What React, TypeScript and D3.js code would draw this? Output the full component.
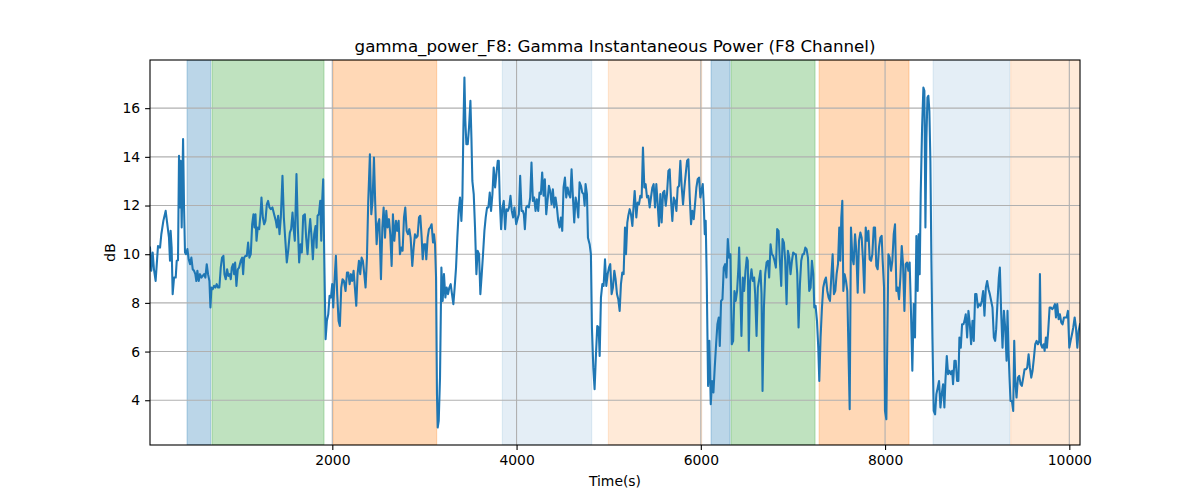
import { useEffect, useRef } from 'react';
import * as d3 from 'd3';

// time (s) and gamma power (dB)
const timeSec = [
  21, 35, 50, 64, 82, 108, 130, 144, 166, 191, 209, 227, 238, 245, 256, 267, 282, 300, 311, 325,
  336, 347, 354, 365, 380, 390, 401, 412, 427, 441, 456, 470, 485, 499, 513, 524, 535, 550, 564, 579,
  593, 608, 622, 637, 651, 666, 677, 688, 702, 716, 731, 745, 760, 774, 789, 803, 818, 829, 843, 858,
  872, 887, 898, 909, 923, 934, 945, 959, 974, 988, 1006, 1021, 1032, 1043, 1057, 1072, 1086, 1100, 1115, 1130,
  1144, 1155, 1166, 1177, 1191, 1206, 1220, 1231, 1246, 1260, 1274, 1289, 1303, 1318, 1332, 1350, 1368,
  1387, 1398, 1412, 1427, 1441, 1459, 1474, 1488, 1506, 1521, 1539, 1553, 1568, 1579, 1593, 1611, 1626, 1640, 1655,
  1669, 1684, 1702, 1716, 1731, 1745, 1760, 1774, 1789, 1803, 1818, 1829, 1840, 1854, 1869, 1880, 1890, 1901, 1912, 1927,
  1941, 1956, 1970, 1985, 1999, 2010, 2024, 2039, 2053, 2068, 2082, 2097, 2111, 2126, 2144, 2159, 2173, 2188, 2202, 2216,
  2231, 2245, 2260, 2274, 2289, 2303, 2318, 2332, 2347, 2361, 2376, 2390, 2408, 2423, 2437, 2452, 2466, 2481, 2495, 2510,
  2528, 2543, 2557, 2572, 2586, 2600, 2615, 2629, 2644, 2658, 2673,
  2691, 2705, 2720, 2734, 2749, 2763, 2778, 2792, 2807, 2821, 2836, 2850, 2868, 2883, 2897, 2912, 2926, 2941, 2955, 2970,
  2981, 2995, 3010, 3020, 3035, 3049, 3064, 3078, 3093, 3104, 3115, 3126, 3136, 3144, 3155, 3169, 3184, 3198, 3212, 3227,
  3241, 3256, 3270, 3285, 3299, 3314, 3328, 3343, 3357, 3372, 3386, 3401, 3412, 3423, 3434, 3444, 3455, 3470, 3484, 3499,
  3510, 3520, 3535, 3549, 3564, 3578, 3593, 3607, 3622, 3636, 3651, 3665, 3680, 3694, 3709, 3723, 3738, 3752, 3767, 3781,
  3796, 3807, 3818, 3832, 3847, 3861, 3876, 3890, 3905, 3919, 3934, 3948, 3963, 3977,
  3996, 4010, 4025, 4039, 4054, 4068, 4079, 4090, 4104, 4119, 4133, 4148, 4162, 4177, 4191, 4206, 4220, 4235, 4249, 4264,
  4278, 4293, 4307, 4322, 4336, 4351, 4365, 4380, 4394, 4409, 4423, 4438, 4452, 4467, 4481, 4496, 4510, 4525, 4539, 4554,
  4568, 4583, 4597, 4612, 4626, 4641, 4655, 4670, 4684, 4699, 4713, 4728, 4739, 4749, 4764, 4775, 4793, 4807, 4818, 4833,
  4847, 4862, 4876, 4891, 4902, 4916, 4931, 4945, 4960, 4974, 4989, 5003, 5017, 5032, 5046, 5061, 5075, 5090, 5104, 5119,
  5133, 5148, 5162, 5177, 5188, 5202, 5213, 5228, 5242, 5257, 5267, 5282,
  5300, 5314, 5329, 5343, 5358, 5372, 5387, 5401, 5416, 5430, 5445, 5459, 5474, 5488, 5503, 5517, 5532, 5546, 5561, 5575,
  5590, 5604, 5619, 5633, 5648, 5662, 5677, 5691, 5706, 5720, 5735, 5749, 5764, 5778, 5793, 5807, 5822, 5836, 5851, 5865,
  5880, 5894, 5908, 5923, 5937, 5952, 5966, 5981, 5995, 6010, 6021, 6032, 6043, 6053, 6064, 6079, 6093, 6108, 6122, 6137,
  6151, 6166, 6180, 6195, 6206, 6220, 6235, 6249, 6264, 6278, 6293, 6307, 6322, 6336, 6351, 6365, 6379, 6394, 6408, 6416,
  6430, 6441, 6456, 6470, 6485, 6499, 6510, 6521, 6535, 6550, 6564, 6579,
  6590, 6605, 6619, 6634, 6648, 6659, 6670, 6685, 6699, 6714, 6728, 6742, 6757, 6771, 6786, 6800, 6815, 6829, 6844, 6858,
  6873, 6887, 6902, 6916, 6931, 6945, 6960, 6974, 6989, 7003, 7018, 7032, 7047, 7061, 7076, 7090, 7105, 7119, 7134, 7148,
  7163, 7177, 7192, 7206, 7221, 7232, 7246, 7261, 7275, 7286, 7300, 7315, 7329, 7344, 7358, 7373, 7387, 7402, 7416, 7431,
  7445, 7460, 7474, 7489, 7503, 7514, 7525, 7536, 7547, 7561, 7576, 7590, 7605, 7616, 7630, 7645, 7659, 7674, 7688, 7703,
  7717, 7732, 7746, 7761, 7775, 7790, 7804, 7819, 7833, 7848, 7862, 7877, 7891,
  7905, 7920, 7934, 7949, 7963, 7974, 7989, 7999, 8014, 8025, 8036, 8050, 8065, 8079, 8094, 8108, 8123, 8137, 8152, 8166,
  8181, 8195, 8210, 8224, 8239, 8253, 8267, 8282, 8296, 8311, 8325, 8340, 8354, 8365, 8376, 8387, 8402, 8416, 8427, 8438,
  8449, 8460, 8470, 8481, 8492, 8503, 8514, 8528, 8543, 8557, 8572, 8586, 8601, 8615, 8630, 8644, 8655, 8670, 8684, 8699,
  8713, 8728, 8738, 8753, 8767, 8782, 8796, 8807, 8822, 8836, 8851, 8862, 8876, 8891, 8905, 8920, 8934, 8949, 8963, 8978,
  8992, 9007, 9021, 9036, 9050, 9065, 9079, 9094, 9108, 9123, 9137, 9152, 9166, 9181, 9195,
  9206, 9221, 9235, 9246, 9261, 9275, 9290, 9304, 9319, 9329, 9340, 9351, 9362, 9377, 9391, 9402, 9413, 9427, 9442, 9456,
  9471, 9485, 9500, 9514, 9529, 9543, 9558, 9572, 9587, 9601, 9616, 9630, 9645, 9659, 9674, 9681, 9692, 9706, 9721, 9732,
  9746, 9757, 9771, 9786, 9800, 9815, 9829, 9844, 9855, 9869, 9884, 9898, 9913, 9927, 9942, 9956, 9971, 9985, 10000, 10014,
  10029, 10043, 10058, 10072, 10087, 10101, 10116,
];

const powerDb = [
  10.27, 9.32, 10.07, 9.38, 8.9, 10.34, 10.27, 10.82, 11.37, 11.78, 11.23, 10.68, 9.73, 10.96, 10.27, 8.36, 9.04, 9.04, 9.73, 9.75,
  14.04, 11.92, 13.84, 11.1, 14.73, 12.05, 10.07, 10.0, 10.21, 9.79, 9.59, 9.86, 9.38, 9.32, 9.18, 8.9, 9.32, 8.9, 9.18, 9.04,
  9.11, 9.18, 9.04, 9.59, 9.18, 8.9, 7.81, 8.63, 8.56, 8.7, 8.63, 8.77, 8.63, 8.63, 9.45, 9.86, 9.93, 9.18, 8.97, 9.38,
  9.11, 9.18, 8.97, 9.45, 9.59, 9.18, 9.66, 8.7, 9.38, 9.45, 9.73, 9.86, 9.18, 9.86, 9.93, 9.93, 10.48, 9.86, 10.0, 11.23,
  11.64, 11.1, 11.64, 10.55, 11.1, 11.03, 11.64, 12.33, 11.51, 11.23, 11.37, 12.05, 12.19, 11.92, 11.85, 11.92, 11.64,
  11.37, 11.1, 11.58, 10.82, 11.51, 13.22, 11.51, 10.68, 9.66, 10.14, 10.89, 11.03, 11.71, 11.1, 10.55, 13.29, 11.1, 9.66, 10.41,
  10.07, 11.58, 11.64, 10.68, 10.0, 10.82, 11.44, 10.75, 9.79, 10.82, 11.16, 10.27, 11.58, 11.64, 12.19, 10.55, 12.19, 13.08, 10.0, 6.51,
  7.26, 7.53, 8.29, 8.22, 8.77, 7.81, 8.9, 9.93, 8.36, 7.26, 7.05, 8.63, 8.97, 8.9, 8.49, 9.25, 9.25, 8.77, 9.18, 8.9,
  9.32, 8.63, 7.88, 9.18, 9.73, 9.18, 9.86, 9.73, 9.18, 8.63, 9.86, 12.19, 14.11, 11.64, 12.19, 13.97, 12.05, 10.41, 11.23, 11.44,
  8.97, 11.1, 11.92, 10.68, 11.78, 11.1, 11.44, 10.82, 9.52, 11.64, 10.55,
  11.37, 10.96, 11.37, 10.0, 10.27, 10.14, 11.51, 11.92, 10.96, 10.82, 11.03, 10.68, 9.52, 10.27, 10.82, 10.68, 10.75, 11.51, 11.58, 10.68,
  9.79, 10.41, 10.41, 9.79, 10.68, 11.03, 11.1, 11.23, 10.48, 10.82, 10.41, 9.04, 4.25, 2.88, 3.15, 4.93, 9.45, 8.08, 9.18, 8.22,
  8.63, 8.36, 8.63, 8.77, 8.36, 7.95, 8.63, 9.45, 10.68, 11.78, 12.33, 11.37, 12.33, 15.21, 17.26, 15.48, 14.52, 14.52, 15.21, 16.3,
  14.79, 13.01, 12.47, 11.1, 9.18, 10.14, 10.0, 8.36, 9.18, 10.0, 10.96, 11.51, 11.92, 11.92, 12.53, 11.78, 12.47, 13.56, 12.74, 13.29,
  13.84, 13.84, 12.19, 11.03, 11.92, 12.19, 11.03, 11.85, 11.78, 11.92, 12.4, 11.78, 11.51, 11.92,
  11.23, 11.44, 11.64, 13.22, 11.78, 11.78, 11.64, 11.03, 11.92, 11.99, 11.92, 12.33, 13.77, 12.19, 12.33, 11.78, 12.26, 11.78, 12.53, 12.47,
  13.36, 12.4, 13.08, 11.64, 12.19, 12.81, 12.6, 12.05, 12.67, 11.92, 12.33, 11.92, 11.37, 11.1, 11.51, 10.96, 12.74, 13.15, 12.33, 12.74,
  12.47, 12.33, 13.49, 12.33, 11.3, 12.33, 12.05, 11.51, 12.95, 12.81, 12.53, 12.47, 11.99, 12.88, 12.47, 10.68, 10.41, 10.0, 6.99, 5.34,
  4.45, 5.89, 7.05, 6.99, 5.82, 8.22, 8.77, 8.7, 9.79, 8.7, 9.18, 9.45, 9.59, 8.36, 8.63, 9.32, 8.97, 8.36, 8.15, 7.67,
  8.77, 9.25, 9.18, 11.1, 10.0, 11.3, 11.58, 11.85, 11.64, 11.16, 11.78, 12.6,
  11.51, 12.12, 12.05, 12.4, 12.33, 14.38, 12.74, 12.88, 12.33, 12.4, 11.92, 12.33, 12.74, 12.88, 11.92, 12.88, 12.05, 11.16, 12.47, 11.3,
  12.53, 12.6, 11.99, 12.47, 13.42, 13.49, 12.19, 11.37, 12.33, 12.19, 11.78, 12.74, 12.81, 13.84, 12.74, 12.05, 12.74, 13.29, 13.84, 13.9,
  12.33, 11.23, 11.78, 11.44, 12.05, 12.74, 13.08, 13.15, 12.33, 12.67, 12.88, 12.05, 10.82, 11.37, 9.04, 4.59, 6.44, 3.84, 4.79, 4.32,
  5.34, 6.3, 7.12, 7.4, 6.23, 8.08, 8.15, 9.45, 9.59, 9.04, 10.62, 9.86, 10.0, 6.3, 6.44, 8.49, 8.08, 8.49, 9.45, 10.27,
  8.36, 6.64, 9.04, 8.49, 9.32, 9.86, 9.73, 6.03, 8.9, 9.38, 8.9, 9.04,
  8.36, 6.64, 8.63, 8.97, 9.32, 8.36, 4.38, 7.81, 9.18, 9.66, 9.73, 9.04, 10.41, 10.0, 9.93, 9.73, 9.45, 11.03, 10.96, 9.73,
  8.7, 10.62, 10.48, 9.73, 7.95, 10.14, 9.86, 9.18, 9.73, 10.07, 10.0, 10.0, 9.18, 6.99, 8.77, 9.73, 10.0, 10.0, 10.27, 10.21,
  9.86, 8.49, 8.63, 9.73, 9.18, 7.81, 7.88, 7.26, 6.16, 4.79, 6.58, 7.81, 8.63, 8.9, 9.04, 8.49, 8.22, 8.08, 9.04, 10.0,
  8.36, 8.49, 9.18, 9.59, 11.1, 9.73, 11.51, 12.19, 8.49, 9.18, 8.9, 8.49, 5.62, 3.63, 11.1, 9.86, 9.59, 10.82, 10.14, 8.42,
  10.55, 10.89, 10.68, 9.73, 8.42, 11.1, 10.55, 10.96, 9.79, 9.73, 10.0, 11.1, 11.1,
  9.52, 9.38, 10.27, 10.68, 10.75, 9.73, 8.63, 3.56, 3.22, 6.71, 10.0, 9.86, 9.32, 9.73, 10.82, 11.23, 8.49, 8.63, 8.15, 9.04,
  10.34, 9.59, 7.67, 9.59, 9.66, 9.32, 9.66, 7.53, 5.21, 7.95, 6.58, 10.75, 8.49, 10.82, 9.18, 12.47, 15.21, 16.85, 16.71, 11.1,
  14.79, 16.44, 16.51, 15.89, 13.84, 9.73, 6.58, 3.56, 3.42, 4.25, 4.52, 4.79, 3.7, 4.25, 4.66, 3.7, 4.79, 5.82, 5.07, 5.21,
  5.07, 5.21, 4.66, 5.62, 5.62, 4.79, 4.79, 6.58, 6.16, 7.12, 7.12, 7.26, 7.53, 6.58, 7.67, 7.12, 6.3, 7.26, 6.44, 8.36,
  8.36, 7.81, 7.95, 7.88, 8.08, 8.49, 7.47, 8.63, 8.9, 8.56, 8.36, 8.08, 7.81, 6.58, 6.44,
  6.92, 8.08, 9.04, 9.45, 7.53, 6.16, 7.67, 6.99, 5.62, 7.67, 6.03, 4.93, 3.97, 3.97, 3.56, 6.44, 4.79, 4.11, 4.93, 5.0,
  4.66, 4.59, 4.93, 5.27, 5.27, 5.34, 5.89, 5.34, 4.93, 5.21, 5.75, 6.3, 6.44, 6.3, 6.44, 9.18, 6.3, 6.16, 6.3, 6.03,
  6.58, 6.16, 6.85, 7.81, 7.81, 7.74, 7.81, 7.95, 7.4, 7.95, 7.33, 7.53, 7.19, 7.12, 7.4, 7.4, 7.4, 7.67, 6.16, 6.44,
  6.71, 6.99, 7.4, 6.99, 6.16, 6.85, 7.12,
];

// shaded intervals: start, end (s) and the kind of segment
const spanStart = [423, 694, 2011, 3845, 4996, 6111, 6328, 7284, 8521, 9364];
const spanEnd = [680, 1910, 3133, 4816, 6010, 6317, 7240, 8260, 9353, 10200];
const spanKind = ['blue', 'green', 'orange', 'blueLight', 'orangeLight', 'blue', 'green', 'orange', 'blueLight', 'orangeLight'];

const xTicks = [2000, 4000, 6000, 8000, 10000];
const yTicks = [4, 6, 8, 10, 12, 14, 16];

const kindFill: Record<string, { color: string; alpha: number }> = {
  blue: { color: '#1f77b4', alpha: 0.3 },
  green: { color: '#2ca02c', alpha: 0.3 },
  orange: { color: '#ff7f0e', alpha: 0.3 },
  blueLight: { color: '#1f77b4', alpha: 0.12 },
  orangeLight: { color: '#ff7f0e', alpha: 0.16 },
};

export default function App() {
  const svgRef = useRef<SVGSVGElement>(null);

  useEffect(() => {
    if (!svgRef.current) return;
    d3.select(svgRef.current).selectAll('*').remove();

    const W = 1200;
    const H = 500;
    const margin = { top: 60, right: 120, bottom: 55, left: 150 };
    const width = W - margin.left - margin.right;
    const height = H - margin.top - margin.bottom;
    const font = "'DejaVu Sans', sans-serif";

    const svg = d3.select(svgRef.current).attr('width', W).attr('height', H);
    svg.append('rect').attr('width', W).attr('height', H).attr('fill', '#fff');

    const g = svg.append('g').attr('transform', `translate(${margin.left},${margin.top})`);

    const x = d3.scaleLinear().domain([timeSec[0], timeSec[timeSec.length - 1]]).range([0, width]);
    const yMin = d3.min(powerDb)!;
    const yMax = d3.max(powerDb)!;
    const pad = (yMax - yMin) * 0.05;
    const y = d3.scaleLinear().domain([yMin - pad, yMax + pad]).range([height, 0]);

    g.append('clipPath').attr('id', 'plot-clip')
      .append('rect').attr('width', width).attr('height', height);

    const plot = g.append('g').attr('clip-path', 'url(#plot-clip)');

    // shaded spans
    plot.selectAll('rect.span')
      .data(spanStart.map((s, i) => ({ s, e: spanEnd[i], k: spanKind[i] })))
      .enter()
      .append('rect')
      .attr('class', 'span')
      .attr('x', d => x(d.s))
      .attr('y', 0)
      .attr('width', d => x(d.e) - x(d.s))
      .attr('height', height)
      .attr('fill', d => kindFill[d.k].color)
      .attr('fill-opacity', d => kindFill[d.k].alpha)
      .attr('stroke', d => kindFill[d.k].color)
      .attr('stroke-opacity', d => kindFill[d.k].alpha)
      .attr('stroke-width', 1);

    // grid
    plot.append('g')
      .selectAll('line')
      .data(xTicks)
      .enter()
      .append('line')
      .attr('x1', d => x(d)).attr('x2', d => x(d))
      .attr('y1', 0).attr('y2', height)
      .attr('stroke', '#b0b0b0').attr('stroke-width', 1.1);

    plot.append('g')
      .selectAll('line')
      .data(yTicks)
      .enter()
      .append('line')
      .attr('x1', 0).attr('x2', width)
      .attr('y1', d => y(d)).attr('y2', d => y(d))
      .attr('stroke', '#b0b0b0').attr('stroke-width', 1.1);

    // power trace
    const line = d3.line<number>()
      .x((_, i) => x(timeSec[i]))
      .y(d => y(d));

    plot.append('path')
      .datum(powerDb)
      .attr('d', line)
      .attr('fill', 'none')
      .attr('stroke', '#1f77b4')
      .attr('stroke-width', 2.08)
      .attr('stroke-linejoin', 'round')
      .attr('stroke-linecap', 'square');

    // axes
    const xAxis = g.append('g')
      .attr('transform', `translate(0,${height})`)
      .call(d3.axisBottom(x).tickValues(xTicks).tickSize(4.9).tickPadding(4.9).tickFormat(d3.format('d')));
    const yAxis = g.append('g')
      .call(d3.axisLeft(y).tickValues(yTicks).tickSize(4.9).tickPadding(4.9).tickFormat(d3.format('d')));

    [xAxis, yAxis].forEach(a => {
      a.select('.domain').remove();
      a.selectAll('line').attr('stroke', '#000').attr('stroke-width', 1.1);
      a.selectAll('text').attr('fill', '#000').style('font-family', font).style('font-size', '13.9px');
    });

    g.append('rect')
      .attr('width', width).attr('height', height)
      .attr('fill', 'none').attr('stroke', '#000').attr('stroke-width', 1.1);

    // labels
    svg.append('text')
      .attr('x', margin.left + width / 2).attr('y', margin.top - 8.3)
      .attr('text-anchor', 'middle')
      .style('font-family', font).style('font-size', '16.7px')
      .text('gamma_power_F8: Gamma Instantaneous Power (F8 Channel)');

    svg.append('text')
      .attr('x', margin.left + width / 2).attr('y', 486)
      .attr('text-anchor', 'middle')
      .style('font-family', font).style('font-size', '13.9px')
      .text('Time(s)');

    svg.append('text')
      .attr('transform', `translate(115,${margin.top + height / 2}) rotate(-90)`)
      .attr('text-anchor', 'middle')
      .style('font-family', font).style('font-size', '13.9px')
      .text('dB');
  }, []);

  return (
    <div style={{ position: 'absolute', left: 0, top: 0 }}>
      <svg ref={svgRef} />
    </div>
  );
}
